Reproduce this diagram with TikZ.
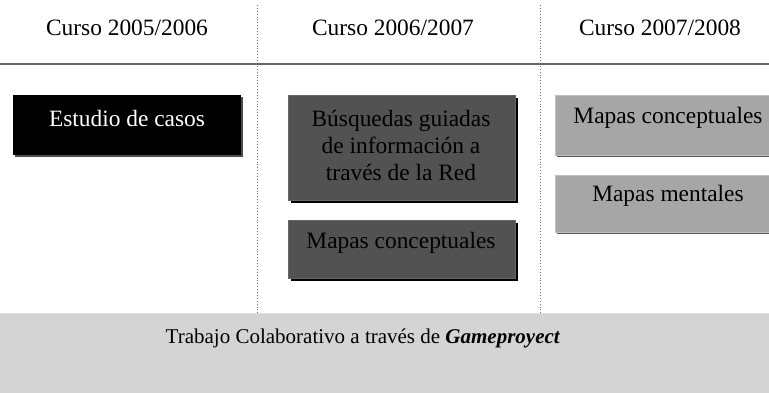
\documentclass[tikz,border=0pt]{standalone}
\usepackage{fontspec}
\setmainfont{Liberation Serif}
\usetikzlibrary{shadows}
\begin{document}
\begin{tikzpicture}[x=1pt,y=-1pt,
  txt/.style={font=\fontsize{23.4}{27}\selectfont, inner sep=0pt, align=center},
  btxt/.style={font=\fontsize{21}{27}\selectfont, inner sep=0pt, align=center},
  boxbase/.style={rectangle, inner sep=0pt, anchor=north west},
  blackbox/.style={boxbase, fill=black, drop shadow={shadow xshift=2pt, shadow yshift=-2pt, fill=black!70, opacity=1}},
  darkbox/.style={boxbase, fill=black!68, draw=black!60, line width=0.6pt, drop shadow={shadow xshift=3pt, shadow yshift=-3pt, fill=black, opacity=1}},
  lightbox/.style={boxbase, fill=black!35, draw=black!25, line width=0.6pt, drop shadow={shadow xshift=1.5pt, shadow yshift=-2pt, fill=black!65, opacity=1}},
  bottombox/.style={boxbase, fill=black!17, draw=black!12, line width=0.6pt},
  divider/.style={draw=black!55, dotted, line width=0.9pt},
  rule/.style={draw=black!60, line width=1.6pt}]
\useasboundingbox (0,0) rectangle (769,393);
\clip (0,0) rectangle (769,393);
% column headers
\node[txt] (h1) at (127,28) {Curso 2005/2006};
\node[txt] (h2) at (393,28) {Curso 2006/2007};
\node[txt] (h3) at (660,28) {Curso 2007/2008};
\coordinate (rl) at (0,64);
\coordinate (rr) at (769,64);
\draw[rule] (rl) -- (rr);
% dividers
\coordinate (d1t) at (257,5);
\coordinate (d1b) at (257,313);
\coordinate (d2t) at (540,5);
\coordinate (d2b) at (540,313);
\draw[divider] (d1t) -- (d1b);
\draw[divider] (d2t) -- (d2b);
% column 1
\node[blackbox, minimum width=228, minimum height=60] (b1) at (13,95) {};
\node[txt, text=white] (t1) at (127,118) {Estudio de casos};
% column 2
\node[darkbox, minimum width=227, minimum height=105] (b2) at (288,95) {};
\node[txt, text=black] (t2) at (401,145) {Búsquedas guiadas\\de información a\\través de la Red};
\node[darkbox, minimum width=227, minimum height=58] (b3) at (288,220) {};
\node[txt, text=black] (t3) at (401,243) {Mapas conceptuales};
% column 3
\node[lightbox, minimum width=230, minimum height=60] (b4) at (555,95) {};
\node[txt] (t4) at (668,118) {Mapas conceptuales};
\node[lightbox, minimum width=230, minimum height=57] (b5) at (555,175) {};
\node[txt] (t5) at (668,196) {Mapas mentales};
% bottom
\node[bottombox, minimum width=771, minimum height=82] (b6) at (-1,313) {};
\node[btxt] (t6) at (363,338) {Trabajo Colaborativo a través de \textbf{\textit{Gameproyect}}};
\end{tikzpicture}
\end{document}
